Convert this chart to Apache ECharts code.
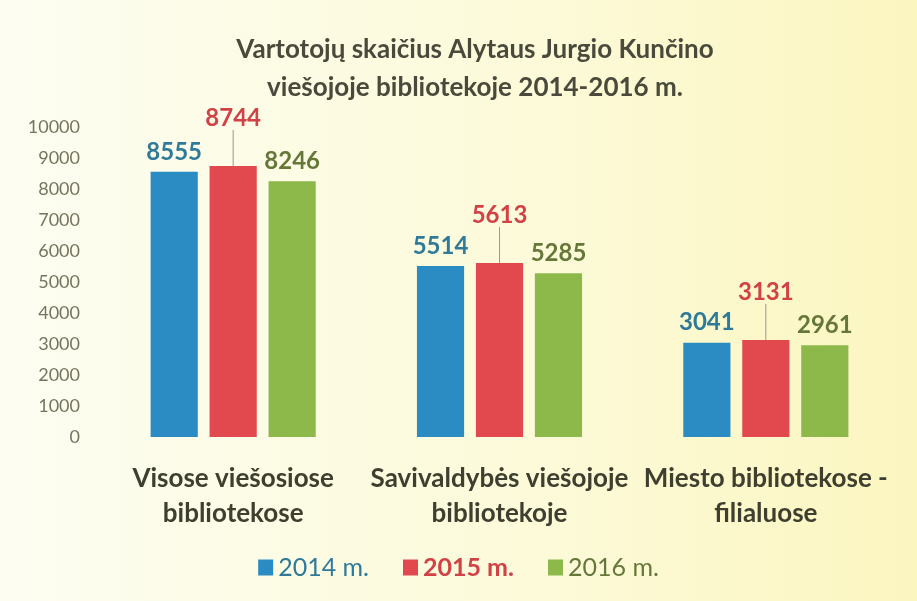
<!DOCTYPE html>
<html><head><meta charset="utf-8">
<script src="https://cdn.jsdelivr.net/npm/echarts@6/dist/echarts.min.js"></script>
<style>html,body{margin:0;padding:0;}#c{width:917px;height:601px;}</style>
</head><body><div id="c"></div>
<script>
const categories = ['Visose viešosiose\nbibliotekose', 'Savivaldybės viešojoje\nbibliotekoje', 'Miesto bibliotekose -\nfilialuose'];
const seriesNames = ['2014 m.', '2015 m.', '2016 m.'];
const values2014 = [8555, 5514, 3041];
const values2015 = [8744, 5613, 3131];
const values2016 = [8246, 5285, 2961];
const barColors = ['#2b8cc4', '#e1494e', '#8db94b'];
const labelColors = ['#2f7a99', '#d04246', '#66773a'];
const FONT = 'Lato, "Open Sans", sans-serif';

const chart = echarts.init(document.getElementById('c'));
const allValues = [values2014, values2015, values2016];
const series = allValues.map((vals, i) => {
  const s = {
    name: seriesNames[i],
    type: 'bar',
    data: vals,
    barGap: '25%',
    barCategoryGap: '38%',
    itemStyle: { color: barColors[i] },
    label: {
      show: true, position: 'top', distance: 8,
      color: labelColors[i], fontFamily: FONT, fontWeight: 'bold', fontSize: 24
    }
  };
  if (i === 1) {
    s.labelLayout = { dy: -28 };
    s.labelLine = { show: true, lineStyle: { color: '#9a9a90', width: 1 } };
  }
  return s;
});

chart.setOption({
  backgroundColor: {
    type: 'linear', x: 0, y: 0, x2: 1, y2: 0,
    colorStops: [{ offset: 0, color: '#fdfdf2' }, { offset: 0.6, color: '#fcfad8' }, { offset: 1, color: '#fbf6c0' }]
  },
  title: {
    text: 'Vartotojų skaičius Alytaus Jurgio Kunčino\nviešojoje bibliotekoje 2014-2016 m.',
    left: 470, textAlign: 'center', top: 26,
    textStyle: { fontFamily: FONT, fontWeight: 'bold', fontSize: 26, color: '#4a4a3c', lineHeight: 38 }
  },
  legend: {
    bottom: 16, left: 'center', itemWidth: 15, itemHeight: 16, itemGap: 34,
    icon: 'rect',
    data: seriesNames.map((n, i) => ({ name: n, textStyle: { color: labelColors[i], fontFamily: FONT, fontSize: 25, fontWeight: i === 1 ? 'bold' : 'normal' } }))
  },
  grid: { left: 100, right: 18, top: 127, bottom: 164 },
  xAxis: {
    type: 'category', data: categories,
    axisLine: { show: false }, axisTick: { show: false },
    axisLabel: { margin: 24, fontFamily: FONT, fontWeight: 'bold', fontSize: 26, color: '#3f3f30', lineHeight: 35, interval: 0 }
  },
  yAxis: {
    type: 'value', min: 0, max: 10000, interval: 1000,
    splitLine: { show: false }, axisLine: { show: false }, axisTick: { show: false },
    axisLabel: { margin: 20, fontFamily: FONT, fontSize: 18, color: '#75755f', formatter: v => String(v) }
  },
  series: series
});
</script></body></html>
